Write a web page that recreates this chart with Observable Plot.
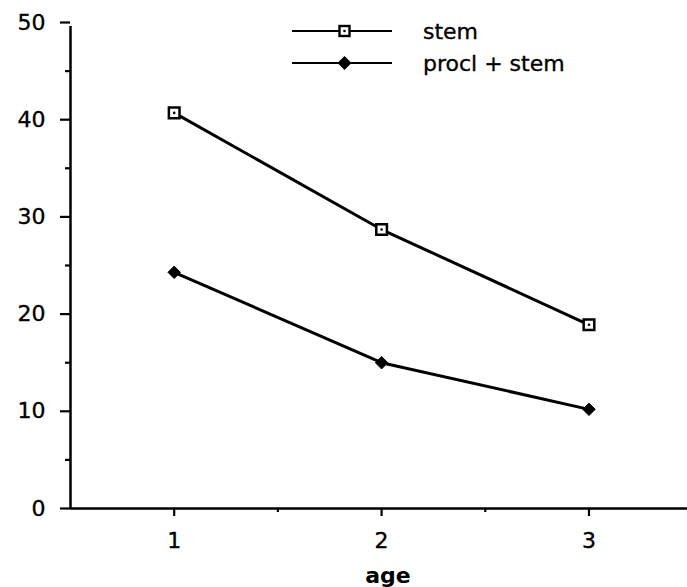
<!DOCTYPE html>
<html><head><meta charset="utf-8">
<script src="https://cdn.jsdelivr.net/npm/d3@7"></script>
<script src="https://cdn.jsdelivr.net/npm/@observablehq/plot@0.6"></script>
<style>
body{margin:0;background:#fff;}
#wrap{position:relative;width:687px;height:587px;font-family:"DejaVu Sans",sans-serif;}
#wrap svg g[aria-label$="axis tick"] path{stroke-width:2.2px;stroke:#000;}
#wrap svg g[aria-label$="tick label"] text{stroke:#000;stroke-width:0.35px;}
.legend{position:absolute;left:292px;top:15px;}
.legend .row{display:flex;align-items:center;height:32px;}
.legend .row span{font-size:22px;color:#000;margin-left:30px;-webkit-text-stroke:0.35px #000;}
</style></head><body><div id="wrap"></div>
<script>
const ages = [1, 2, 3];
const stem = [40.7, 28.7, 18.9];
const proclStem = [24.3, 15.0, 10.2];
const seriesNames = ["stem", "procl + stem"];
const yMajorTicks = [0, 10, 20, 30, 40, 50];
const yMinorTicks = [5, 15, 25, 35, 45];
const xMajorTicks = [1, 2, 3];
const xMinorTicks = [1.5, 2.5];
const xTitle = "age";

const rows = [];
ages.forEach((a, i) => {
  rows.push({age: a, value: stem[i], series: seriesNames[0]});
  rows.push({age: a, value: proclStem[i], series: seriesNames[1]});
});
const stemRows = rows.filter(d => d.series === seriesNames[0]);
const proclRows = rows.filter(d => d.series === seriesNames[1]);

const chart = Plot.plot({
  width: 687,
  height: 587,
  marginLeft: 70,
  marginRight: 0,
  marginTop: 22,
  marginBottom: 79,
  style: {fontFamily: "'DejaVu Sans', sans-serif", fontSize: "22px", color: "#000", background: "#fff"},
  x: {domain: [0.5, 3.475]},
  y: {domain: [0, 50]},
  marks: [
    Plot.axisY({ticks: yMajorTicks, tickSize: 10, tickPadding: 15, tickFormat: d => String(d), label: null, strokeWidth: 2, fontSize: 22}),
    Plot.axisY({ticks: yMinorTicks, tickSize: 5, text: null, label: null, strokeWidth: 2}),
    Plot.axisX({ticks: xMajorTicks, tickSize: 8, tickPadding: 16, tickFormat: d => String(d), label: null, strokeWidth: 2, fontSize: 22}),
    Plot.axisX({ticks: xMinorTicks, tickSize: 4, text: null, label: null, strokeWidth: 2}),
    Plot.ruleX([0.5], {y1: 0, y2: 50, stroke: "#000", strokeWidth: 2.5, insetBottom: -4}),
    Plot.ruleY([0], {stroke: "#000", strokeWidth: 2.5}),
    Plot.line(stemRows, {x: "age", y: "value", stroke: "#000", strokeWidth: 3}),
    Plot.line(proclRows, {x: "age", y: "value", stroke: "#000", strokeWidth: 3}),
    Plot.dot(stemRows, {x: "age", y: "value", symbol: "square", r: 6, fill: "#fff", stroke: "#000", strokeWidth: 2.5}),
    Plot.dot(stemRows, {x: "age", y: "value", r: 1.3, fill: "#000", stroke: null}),
    Plot.dot(proclRows, {x: "age", y: "value", symbol: "diamond2", r: 5.6, fill: "#000", stroke: "#000", strokeWidth: 1}),
    Plot.text([xTitle], {frameAnchor: "bottom", text: d => d, dy: 67, dx: 9, fontWeight: "bold", fontSize: 22, fill: "#000", lineAnchor: "middle"})
  ]
});
const wrap = document.getElementById("wrap");
wrap.appendChild(chart);

// Legend (HTML overlay)
const legend = document.createElement("div");
legend.className = "legend";
function swatch(kind) {
  const ns = "http://www.w3.org/2000/svg";
  const s = document.createElementNS(ns, "svg");
  s.setAttribute("width", 101); s.setAttribute("height", 20);
  const l = document.createElementNS(ns, "line");
  l.setAttribute("x1", 0); l.setAttribute("x2", 100); l.setAttribute("y1", 10); l.setAttribute("y2", 10);
  l.setAttribute("stroke", "#000"); l.setAttribute("stroke-width", 2);
  s.appendChild(l);
  if (kind === 0) {
    const r = document.createElementNS(ns, "rect");
    r.setAttribute("x", 47.5); r.setAttribute("y", 5); r.setAttribute("width", 10); r.setAttribute("height", 10);
    r.setAttribute("fill", "#fff"); r.setAttribute("stroke", "#000"); r.setAttribute("stroke-width", 2.4);
    s.appendChild(r);
    const c = document.createElementNS(ns, "circle");
    c.setAttribute("cx", 52.5); c.setAttribute("cy", 10); c.setAttribute("r", 1.3); c.setAttribute("fill", "#000");
    s.appendChild(c);
  } else {
    const p = document.createElementNS(ns, "path");
    p.setAttribute("d", "M52.5,3L59.5,10L52.5,17L45.5,10Z");
    p.setAttribute("fill", "#000");
    s.appendChild(p);
  }
  return s;
}
seriesNames.forEach((name, i) => {
  const row = document.createElement("div");
  row.className = "row";
  row.appendChild(swatch(i));
  const t = document.createElement("span");
  t.textContent = name;
  row.appendChild(t);
  legend.appendChild(row);
});
wrap.appendChild(legend);
</script></body></html>
